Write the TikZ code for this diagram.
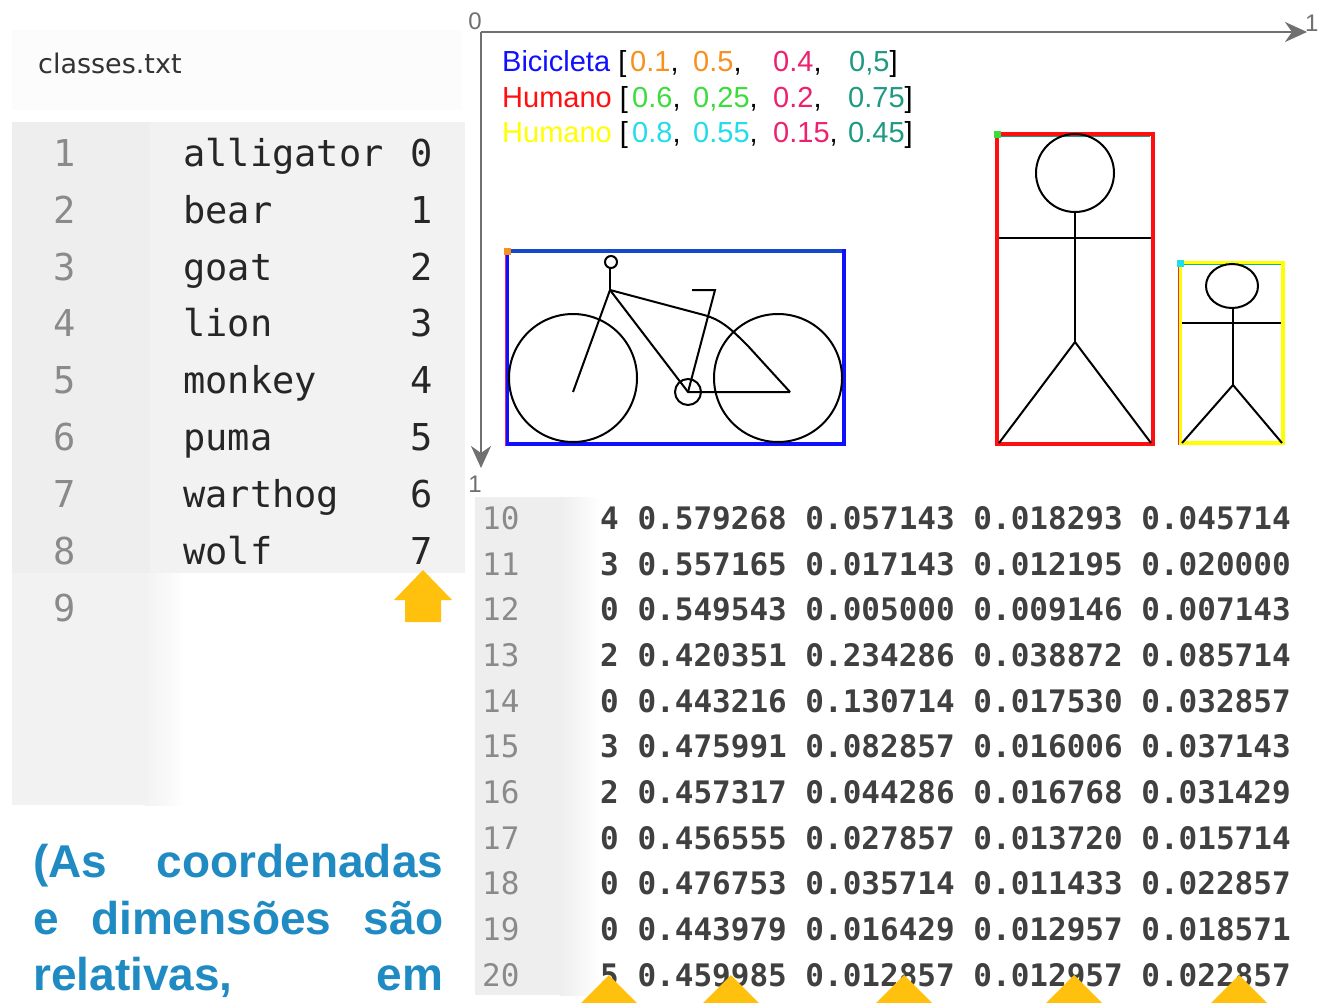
\documentclass[tikz,border=0pt]{standalone}
\usepackage{fontspec}
\setmainfont{Liberation Sans}
\newfontfamily\monofam{DejaVu Sans Mono}
\newfontfamily\uifam{DejaVu Sans}
\usetikzlibrary{arrows.meta}

\definecolor{panelgray}{HTML}{F2F2F2}
\definecolor{stripgray}{HTML}{EEEEEE}
\definecolor{numgray}{HTML}{8A8A8A}
\definecolor{listink}{HTML}{262626}
\definecolor{tabink}{HTML}{404040}
\definecolor{axisgray}{HTML}{707070}
\definecolor{bikeblue}{HTML}{1010FF}
\definecolor{humred}{HTML}{FF1010}
\definecolor{humyellow}{HTML}{FFFF00}
\definecolor{valorange}{HTML}{F7901E}
\definecolor{valgreen}{HTML}{3CDC3C}
\definecolor{valcyan}{HTML}{20DCEC}
\definecolor{valpink}{HTML}{EE2070}
\definecolor{valteal}{HTML}{1E9A82}
\definecolor{arrowgold}{HTML}{FFC10E}
\definecolor{noteblue}{HTML}{1F8BC2}

\begin{document}
\begin{tikzpicture}[x=1pt,y=-1pt,
  lnum/.style={font={\monofam\fontsize{37}{40}\selectfont}, text=numgray, inner sep=0pt, anchor=base},
  listtxt/.style={font={\monofam\fontsize{37}{40}\selectfont}, text=listink, inner sep=0pt},
  tnum/.style={font={\monofam\fontsize{31}{34}\selectfont}, text=numgray, inner sep=0pt, anchor=base west},
  tabtxt/.style={font={\monofam\bfseries\fontsize{31}{34}\selectfont}, text=tabink, inner sep=0pt, anchor=base west},
  legend/.style={font={\fontsize{29}{32}\selectfont}, inner sep=0pt, anchor=base west},
  axislabel/.style={font={\fontsize{24}{26}\selectfont}, text=axisgray, inner sep=0pt},
  axisline/.style={draw=axisgray, line width=2.5pt, -{Stealth[length=22pt,width=20pt,inset=7pt]}},
  bboxline/.style={line width=4.5pt},
  stick/.style={draw=black, line width=2pt},
  note/.style={font={\bfseries\fontsize{46}{50}\selectfont}, text=noteblue, inner sep=0pt, anchor=base west},
  goldarrow/.style={fill=arrowgold, draw=none}
]
\useasboundingbox (0,0) rectangle (1324,1003);
\fill[white] (0,0) rectangle (1324,1003);

% ---------- classes.txt panel ----------
\fill[gray!2] (12,30) rectangle (462,110);
\fill[panelgray] (12,122) rectangle (465,573);
\fill[stripgray] (12,122) rectangle (150,573);
\fill[panelgray] (12,573) rectangle (145,805);
\shade[left color=panelgray, right color=white] (145,573) rectangle (185,805);

\node[font={\uifam\fontsize{27}{30}\selectfont}, text=black!80, inner sep=0pt, anchor=base west] (fname) at (38,74) {classes.txt};

\foreach \n/\cls/\k in {1/alligator/0, 2/bear/1, 3/goat/2, 4/lion/3, 5/monkey/4, 6/puma/5, 7/warthog/6, 8/wolf/7}{
  \pgfmathsetmacro{\yb}{166.5+(\n-1)*56.8}
  \node[lnum] (ln\n) at (65,\yb) {\n};
  \node[listtxt, anchor=base west] (cls\n) at (183,\yb) {\cls};
  \node[listtxt, anchor=base east] (id\n) at (433,\yb) {\k};
}
\node[lnum] (ln9) at (65,621) {9};

% arrow pointing at the class index column
\fill[goldarrow] (423,570) -- (452,600) -- (441,600) -- (441,622) -- (405,622) -- (405,600) -- (394,600) -- cycle;

% ---------- normalised image frame ----------
\coordinate (O) at (481,32);
\coordinate (Xend) at (1307,32);
\coordinate (Yend) at (481,468);
\draw[axisline] (O) -- (Xend);
\draw[axisline] (O) -- (Yend);
\node[axislabel, anchor=base east] (zero) at (482,30) {0};
\node[axislabel, anchor=base west] (onex) at (1305,32) {1};
\node[axislabel, anchor=base east] (oney) at (482,492) {1};

% legend lines
\node[legend] (lgA) at (502,72) {\textcolor{bikeblue}{Bicicleta} [};
\node[legend] (lgA1) at (630,72) {\textcolor{valorange}{0.1},};
\node[legend] (lgA2) at (693,72) {\textcolor{valorange}{0.5},};
\node[legend] (lgA3) at (773,72) {\textcolor{valpink}{0.4},};
\node[legend] (lgA4) at (849,72) {\textcolor{valteal}{0,5}]};

\node[legend] (lgB) at (502,108) {\textcolor{humred}{Humano} [};
\node[legend] (lgB1) at (632,108) {\textcolor{valgreen}{0.6},};
\node[legend] (lgB2) at (693,108) {\textcolor{valgreen}{0,25},};
\node[legend] (lgB3) at (773,108) {\textcolor{valpink}{0.2},};
\node[legend] (lgB4) at (848,108) {\textcolor{valteal}{0.75}]};

\node[legend] (lgC) at (502,143) {\textcolor{humyellow}{Humano} [};
\node[legend] (lgC1) at (632,143) {\textcolor{valcyan}{0.8},};
\node[legend] (lgC2) at (693,143) {\textcolor{valcyan}{0.55},};
\node[legend] (lgC3) at (773,143) {\textcolor{valpink}{0.15},};
\node[legend] (lgC4) at (848,143) {\textcolor{valteal}{0.45}]};

% bicycle and its box
\draw[bboxline, draw=bikeblue] (507,251) rectangle (844,444);
\draw[line width=4.5pt, draw=bikeblue!60!valteal] (509,251) -- (842,251);
\draw[line width=1.5pt, draw=valpink] (505.5,254) -- (505.5,446);
\fill[valorange] (504,248) rectangle (511,255);

\draw[stick] (573,378) circle[radius=64pt];
\draw[stick] (778,378) circle[radius=64pt];
\draw[stick] (611,262) circle[radius=6pt];
\draw[stick] (688,392) circle[radius=13pt];
\draw[stick] (610,268) -- (610,290);
\draw[stick] (610,290) -- (573,392);
\draw[stick] (610,290) -- (688,392) -- (790,392);
\draw[stick] (610,290) -- (704,315) .. controls (722,320) and (732,330) .. (748,346) -- (790,392);
\draw[stick] (688,392) -- (715,290) -- (692,290);

% large person and its box
\draw[bboxline, draw=humred] (997,134) rectangle (1153,444);
\draw[line width=1.3pt, draw=valteal] (1000,136.5) -- (1150,136.5);
\fill[valgreen] (994,131) rectangle (1001,138);
\draw[stick] (1075,173) circle[radius=39pt];
\draw[stick] (1075,212) -- (1075,342);
\draw[stick] (999,238) -- (1151,238);
\draw[stick] (999,443) -- (1075,342) -- (1151,443);

% small person and its box
\draw[bboxline, draw=humyellow] (1180,263) rectangle (1283,443);
\draw[line width=1.5pt, draw=valpink] (1178.5,265) -- (1178.5,445);
\draw[line width=1.5pt, draw=valteal!70!valgreen] (1182,264.5) -- (1281,264.5);
\fill[valcyan] (1177,260) rectangle (1184,267);
\draw[stick] (1232,286) ellipse[x radius=26pt, y radius=22pt];
\draw[stick] (1233,308) -- (1233,385);
\draw[stick] (1182,323) -- (1281,323);
\draw[stick] (1182,443) -- (1233,385) -- (1282,443);

% ---------- label file excerpt ----------
\fill[stripgray] (475,497) rectangle (560,995);
\shade[left color=stripgray, right color=white] (560,497) rectangle (600,995);

\foreach \n/\row in {
  10/{4 0.579268 0.057143 0.018293 0.045714},
  11/{3 0.557165 0.017143 0.012195 0.020000},
  12/{0 0.549543 0.005000 0.009146 0.007143},
  13/{2 0.420351 0.234286 0.038872 0.085714},
  14/{0 0.443216 0.130714 0.017530 0.032857},
  15/{3 0.475991 0.082857 0.016006 0.037143},
  16/{2 0.457317 0.044286 0.016768 0.031429},
  17/{0 0.456555 0.027857 0.013720 0.015714},
  18/{0 0.476753 0.035714 0.011433 0.022857},
  19/{0 0.443979 0.016429 0.012957 0.018571},
  20/{5 0.459985 0.012857 0.012957 0.022857}}{
  \pgfmathsetmacro{\yb}{529.5+(\n-10)*45.65}
  \node[tnum] (tl\n) at (482,\yb) {\n};
  \node[tabtxt] (row\n) at (600,\yb) {\row};
}

% arrows pointing at the five fields
\foreach \i/\xc in {1/609, 2/731, 3/904, 4/1074, 5/1239}{
  \fill[goldarrow] (\xc,975) -- (\xc+28,1003) -- (\xc-28,1003) -- cycle;
}

% ---------- note ----------
\node[note] (note1) at (33,877) {\makebox[410pt][l]{(As\hfill coordenadas}};
\node[note] (note2) at (33,934) {\makebox[410pt][l]{e\hfill dimensões\hfill são}};
\node[note] (note3) at (33,990) {\makebox[410pt][l]{relativas,\hfill em}};
\end{tikzpicture}
\end{document}
